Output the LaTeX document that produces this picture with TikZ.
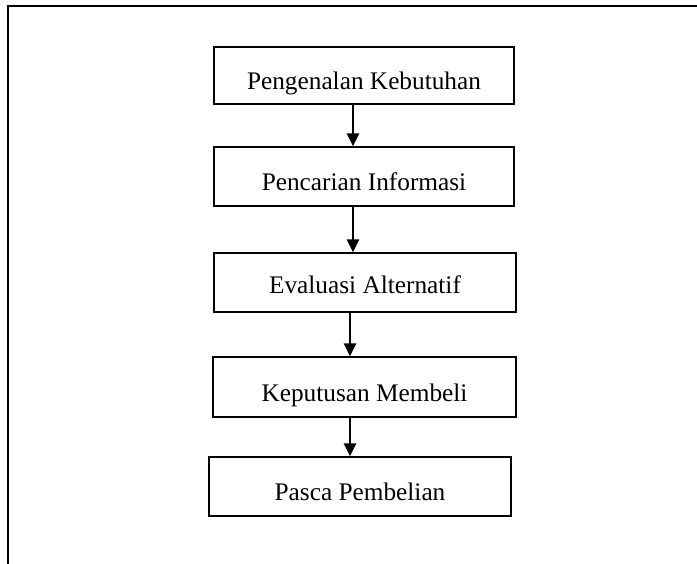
\documentclass[tikz,border=0pt]{standalone}
\usepackage{fontspec}
\setmainfont{Liberation Serif}
\usetikzlibrary{arrows.meta}
\begin{document}
\begin{tikzpicture}[x=1pt,y=-1pt,
  stepbox/.style={draw=black,line width=1.5pt,inner sep=0pt,minimum width=300pt,minimum height=58pt,
    text height=28pt,text depth=0pt,font=\fontsize{25.3}{30}\selectfont},
  arr/.style={line width=1.6pt,-{Triangle[width=12.5pt,length=13pt]}},
  frame/.style={line width=2pt}]
\useasboundingbox (0,0) rectangle (697,563);
\fill[white] (0,0) rectangle (697,563);
\draw[frame] (8,570) -- (8,6) -- (705,6);
\node[stepbox,minimum height=57pt] (b1) at (364,75.5) {Pengenalan Kebutuhan};
\node[stepbox,minimum height=59pt] (b2) at (364,176.5) {Pencarian Informasi};
\node[stepbox,minimum width=302pt,minimum height=59pt,text height=22pt] (b3) at (365,282.5) {Evaluasi Alternatif};
\node[stepbox,minimum width=303pt,minimum height=60pt] (b4) at (364.5,387) {Keputusan Membeli};
\node[stepbox,minimum width=302pt,minimum height=59pt] (b5) at (360,486.5) {Pasca Pembelian};
\coordinate (xa) at (353,0);
\coordinate (xb) at (350,0);
\draw[arr] (b1.south -| xa) -- (b2.north -| xa);
\draw[arr] (b2.south -| xa) -- (b3.north -| xa);
\draw[arr] (b3.south -| xb) -- (b4.north -| xb);
\draw[arr] (b4.south -| xb) -- (b5.north -| xb);
\end{tikzpicture}
\end{document}
